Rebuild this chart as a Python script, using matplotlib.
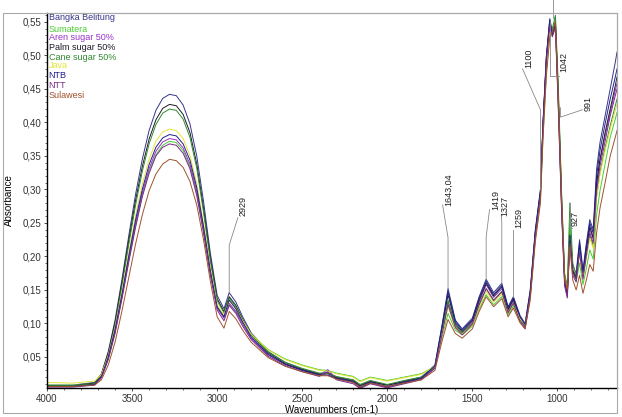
import matplotlib.pyplot as plt
import numpy as np
from matplotlib.patches import Rectangle
from matplotlib.ticker import FuncFormatter, MultipleLocator

plt.rcParams['font.family'] = ['Liberation Sans', 'DejaVu Sans']

wavenumber = [4000, 3850, 3720, 3680, 3640, 3600, 3560, 3520, 3480, 3440, 3400,
              3360, 3320, 3280, 3240, 3200, 3160, 3120, 3080, 3040, 3000,
              2960, 2929, 2890, 2850, 2800, 2700, 2600, 2500, 2400, 2350, 2300,
              2200, 2160, 2100, 2000, 1900, 1800, 1720, 1680,
              1643, 1600, 1560, 1500, 1460, 1419, 1375, 1327, 1290, 1259, 1220,
              1190, 1160, 1130, 1100, 1085, 1065, 1045, 1030, 1012,
              995, 975, 958, 942, 927, 910, 890, 870, 850, 830, 810, 790, 770,
              750, 720, 690, 660, 650]

bangka_belitung = [
    0.008, 0.008, 0.012, 0.025, 0.058, 0.105, 0.165, 0.230, 0.292, 0.345, 0.388, 0.418, 0.436, 0.442, 0.440, 0.426, 0.398, 0.350, 0.282, 0.205, 0.142,
    0.122, 0.146, 0.132, 0.110, 0.086, 0.058, 0.042, 0.032, 0.025, 0.027, 0.020, 0.015, 0.008, 0.014, 0.008, 0.014, 0.020, 0.038, 0.095,
    0.152, 0.105, 0.092, 0.108, 0.140, 0.166, 0.146, 0.160, 0.125, 0.140, 0.112, 0.100, 0.150, 0.240, 0.300, 0.400, 0.500, 0.555, 0.535, 0.552,
    0.440, 0.280, 0.170, 0.150, 0.240, 0.185, 0.175, 0.225, 0.180, 0.220, 0.255, 0.240, 0.330, 0.370, 0.410, 0.450, 0.490, 0.505]
sumatera = [
    0.008, 0.008, 0.011, 0.021, 0.047, 0.087, 0.138, 0.193, 0.245, 0.291, 0.327, 0.352, 0.366, 0.372, 0.370, 0.358, 0.334, 0.294, 0.238, 0.175, 0.124,
    0.111, 0.128, 0.118, 0.102, 0.084, 0.061, 0.047, 0.038, 0.031, 0.030, 0.026, 0.021, 0.014, 0.020, 0.015, 0.020, 0.025, 0.036, 0.078,
    0.115, 0.090, 0.083, 0.096, 0.122, 0.143, 0.128, 0.140, 0.113, 0.126, 0.106, 0.098, 0.140, 0.226, 0.285, 0.380, 0.475, 0.530, 0.535, 0.555,
    0.445, 0.285, 0.172, 0.155, 0.250, 0.178, 0.162, 0.190, 0.158, 0.182, 0.210, 0.196, 0.262, 0.298, 0.338, 0.378, 0.405, 0.415]
aren_sugar = [
    0.006, 0.006, 0.009, 0.020, 0.048, 0.088, 0.140, 0.196, 0.249, 0.295, 0.331, 0.357, 0.371, 0.376, 0.374, 0.362, 0.338, 0.298, 0.241, 0.176, 0.123,
    0.108, 0.130, 0.118, 0.099, 0.078, 0.053, 0.039, 0.030, 0.023, 0.031, 0.018, 0.012, 0.004, 0.011, 0.005, 0.011, 0.017, 0.034, 0.085,
    0.132, 0.097, 0.086, 0.102, 0.132, 0.158, 0.139, 0.152, 0.120, 0.134, 0.106, 0.094, 0.144, 0.234, 0.294, 0.394, 0.495, 0.550, 0.532, 0.548,
    0.428, 0.268, 0.160, 0.140, 0.225, 0.176, 0.166, 0.212, 0.170, 0.208, 0.242, 0.226, 0.305, 0.342, 0.380, 0.415, 0.448, 0.458]
palm_sugar = [
    0.007, 0.007, 0.011, 0.024, 0.056, 0.101, 0.160, 0.223, 0.283, 0.334, 0.375, 0.404, 0.421, 0.427, 0.425, 0.412, 0.385, 0.338, 0.272, 0.198, 0.137,
    0.118, 0.140, 0.127, 0.106, 0.083, 0.056, 0.040, 0.031, 0.024, 0.025, 0.019, 0.014, 0.007, 0.013, 0.008, 0.013, 0.019, 0.036, 0.090,
    0.143, 0.100, 0.088, 0.104, 0.135, 0.160, 0.141, 0.155, 0.121, 0.136, 0.108, 0.097, 0.145, 0.235, 0.295, 0.395, 0.495, 0.550, 0.532, 0.545,
    0.430, 0.270, 0.165, 0.145, 0.230, 0.178, 0.168, 0.215, 0.172, 0.210, 0.245, 0.228, 0.310, 0.345, 0.385, 0.420, 0.455, 0.468]
cane_sugar = [
    0.007, 0.007, 0.010, 0.022, 0.053, 0.097, 0.155, 0.217, 0.276, 0.327, 0.368, 0.397, 0.414, 0.420, 0.418, 0.405, 0.378, 0.332, 0.266, 0.193, 0.134,
    0.116, 0.138, 0.125, 0.105, 0.083, 0.057, 0.042, 0.033, 0.026, 0.026, 0.021, 0.016, 0.009, 0.015, 0.009, 0.015, 0.020, 0.035, 0.085,
    0.135, 0.097, 0.086, 0.100, 0.128, 0.152, 0.135, 0.148, 0.117, 0.131, 0.106, 0.096, 0.142, 0.232, 0.292, 0.392, 0.490, 0.545, 0.540, 0.560,
    0.455, 0.290, 0.175, 0.155, 0.280, 0.190, 0.172, 0.210, 0.170, 0.200, 0.232, 0.215, 0.290, 0.325, 0.362, 0.395, 0.425, 0.435]
java = [
    0.012, 0.011, 0.014, 0.024, 0.052, 0.094, 0.147, 0.205, 0.260, 0.308, 0.345, 0.372, 0.386, 0.390, 0.388, 0.376, 0.351, 0.309, 0.249, 0.182, 0.128,
    0.113, 0.133, 0.122, 0.104, 0.084, 0.060, 0.046, 0.037, 0.030, 0.029, 0.025, 0.020, 0.013, 0.019, 0.014, 0.019, 0.024, 0.036, 0.082,
    0.125, 0.093, 0.084, 0.098, 0.125, 0.148, 0.132, 0.144, 0.116, 0.129, 0.107, 0.098, 0.140, 0.228, 0.288, 0.385, 0.480, 0.535, 0.528, 0.540,
    0.425, 0.270, 0.168, 0.152, 0.228, 0.182, 0.170, 0.205, 0.168, 0.198, 0.228, 0.212, 0.288, 0.322, 0.358, 0.390, 0.418, 0.428]
ntb = [
    0.006, 0.006, 0.009, 0.021, 0.050, 0.091, 0.143, 0.200, 0.254, 0.300, 0.337, 0.363, 0.377, 0.382, 0.380, 0.368, 0.344, 0.303, 0.245, 0.179, 0.125,
    0.110, 0.135, 0.122, 0.102, 0.080, 0.054, 0.039, 0.030, 0.023, 0.023, 0.018, 0.013, 0.005, 0.012, 0.006, 0.012, 0.018, 0.037, 0.093,
    0.148, 0.103, 0.090, 0.106, 0.138, 0.163, 0.143, 0.157, 0.123, 0.138, 0.110, 0.098, 0.148, 0.238, 0.298, 0.398, 0.498, 0.553, 0.530, 0.548,
    0.435, 0.275, 0.165, 0.145, 0.232, 0.180, 0.170, 0.220, 0.176, 0.215, 0.250, 0.235, 0.320, 0.358, 0.398, 0.435, 0.468, 0.480]
ntt = [
    0.005, 0.005, 0.008, 0.019, 0.046, 0.085, 0.136, 0.191, 0.243, 0.289, 0.324, 0.350, 0.363, 0.368, 0.366, 0.354, 0.331, 0.291, 0.235, 0.172, 0.120,
    0.104, 0.127, 0.115, 0.096, 0.076, 0.051, 0.037, 0.028, 0.021, 0.028, 0.016, 0.010, 0.003, 0.010, 0.004, 0.010, 0.016, 0.033, 0.082,
    0.128, 0.094, 0.083, 0.099, 0.128, 0.152, 0.134, 0.147, 0.116, 0.130, 0.103, 0.092, 0.140, 0.230, 0.290, 0.390, 0.490, 0.545, 0.528, 0.542,
    0.420, 0.262, 0.156, 0.138, 0.220, 0.172, 0.162, 0.206, 0.166, 0.202, 0.236, 0.220, 0.298, 0.335, 0.372, 0.410, 0.440, 0.450]
sulawesi = [
    0.006, 0.006, 0.008, 0.016, 0.038, 0.072, 0.118, 0.168, 0.218, 0.262, 0.298, 0.323, 0.338, 0.345, 0.343, 0.333, 0.312, 0.277, 0.225, 0.163, 0.110,
    0.093, 0.118, 0.107, 0.090, 0.072, 0.049, 0.036, 0.028, 0.022, 0.022, 0.017, 0.012, 0.005, 0.011, 0.006, 0.011, 0.016, 0.030, 0.072,
    0.106, 0.085, 0.078, 0.092, 0.118, 0.140, 0.125, 0.137, 0.110, 0.123, 0.101, 0.092, 0.135, 0.222, 0.280, 0.375, 0.470, 0.528, 0.535, 0.550,
    0.440, 0.282, 0.168, 0.150, 0.215, 0.165, 0.150, 0.172, 0.145, 0.165, 0.188, 0.178, 0.235, 0.272, 0.310, 0.350, 0.378, 0.388]

names = ['Bangka Belitung', 'Sumatera', 'Aren sugar 50%', 'Palm sugar 50%',
         'Cane sugar 50%', 'Java', 'NTB', 'NTT', 'Sulawesi']
series = [bangka_belitung, sumatera, aren_sugar, palm_sugar, cane_sugar,
          java, ntb, ntt, sulawesi]
colors = ['#35358a', '#4ccc33', '#9a30c8', '#1c1c24', '#2e8a2e',
          '#e4e436', '#20208a', '#7a2a8a', '#a0522d']

# peak labels: text position, start of leader line, knee of leader line
peak_labels = ['2929', '1643,04', '1419', '1327', '1259', '1100', '1042', '991', '927']
peak_wn = [2929, 1643, 1419, 1327, 1259, 1100, 1042, 991, 927]
label_pos = [(2849, 0.275), (1639, 0.299), (1364, 0.284), (1311, 0.275),
             (1228, 0.257), (1170, 0.496), (964, 0.490), (817, 0.428), (894, 0.257)]
line_start = [(2878, 0.258), (1675, 0.277), (1399, 0.270), (1330, 0.262),
              (1259, 0.240), (1205, 0.480), (990, 0.470), (853, 0.419), (917, 0.243)]
line_knee = [(2929, 0.217), (1643, 0.228), (1419, 0.229), (1327, 0.250),
             (1259, 0.240), (1100, 0.419), (1042, 0.470), (982, 0.408), (927, 0.243)]

fig = plt.figure(figsize=(6.22, 4.17), dpi=100)
ax = fig.add_axes([47 / 622, 29 / 417, 570 / 622, 375 / 417])

for values, color in zip(series, colors):
    ax.plot(wavenumber, values, color=color, lw=0.7)

ax.set_xlim(4000, 650)
ax.set_ylim(0.0037, 0.5634)

wn_rev = np.array(wavenumber[::-1])
for lab, wn, pos, start, knee in zip(peak_labels, peak_wn, label_pos, line_start, line_knee):
    top = max(np.interp(wn, wn_rev, np.array(s[::-1])) for s in series)
    ax.plot([start[0], knee[0], knee[0]], [start[1], knee[1], top],
            color='#888888', lw=0.6)
    ax.text(pos[0], pos[1], lab, rotation=90, ha='center', va='center',
            fontsize=6.5, color='#222222')

# cut off label of main peak above the plot
ax.plot([1029, 1029], [0.556, 0.60], color='#888888', lw=0.6, clip_on=False)

ax.xaxis.set_major_locator(MultipleLocator(500))
ax.xaxis.set_minor_locator(MultipleLocator(100))
ax.yaxis.set_major_locator(MultipleLocator(0.05))
ax.yaxis.set_minor_locator(MultipleLocator(0.01))
ax.yaxis.set_major_formatter(FuncFormatter(lambda v, p: f'{v:.2f}'.replace('.', ',')))
ax.xaxis.set_major_formatter(FuncFormatter(lambda v, p: f'{v:.0f}' if v >= 1000 else ''))
ax.tick_params(which='both', direction='out', labelsize=7, colors='#333333')
ax.tick_params(which='major', length=2.5, width=0.6, pad=1.5)
ax.tick_params(which='minor', length=1.5, width=0.5)

for side in ['top', 'right']:
    ax.spines[side].set_color('#999999')
    ax.spines[side].set_linewidth(0.8)
for side in ['left', 'bottom']:
    ax.spines[side].set_color('black')
    ax.spines[side].set_linewidth(1.0)

ax.set_ylabel('Absorbance', fontsize=7, labelpad=6)
ax.set_xlabel('Wavenumbers (cm-1)', fontsize=7, labelpad=1)

legend_y = [18, 29, 38, 47, 57, 66, 76, 85, 95]
for name, color, py in zip(names, colors, legend_y):
    ax.text(0.003, (388 - py) / 375, name, transform=ax.transAxes, fontsize=6.5,
            color=color, ha='left', va='center')

fig.patches.append(Rectangle((3 / 622, 4 / 417), 614 / 622, 400 / 417,
                             transform=fig.transFigure, fill=False,
                             ec='#aaaaaa', lw=0.8))

fig.savefig('out.png', dpi=100)
